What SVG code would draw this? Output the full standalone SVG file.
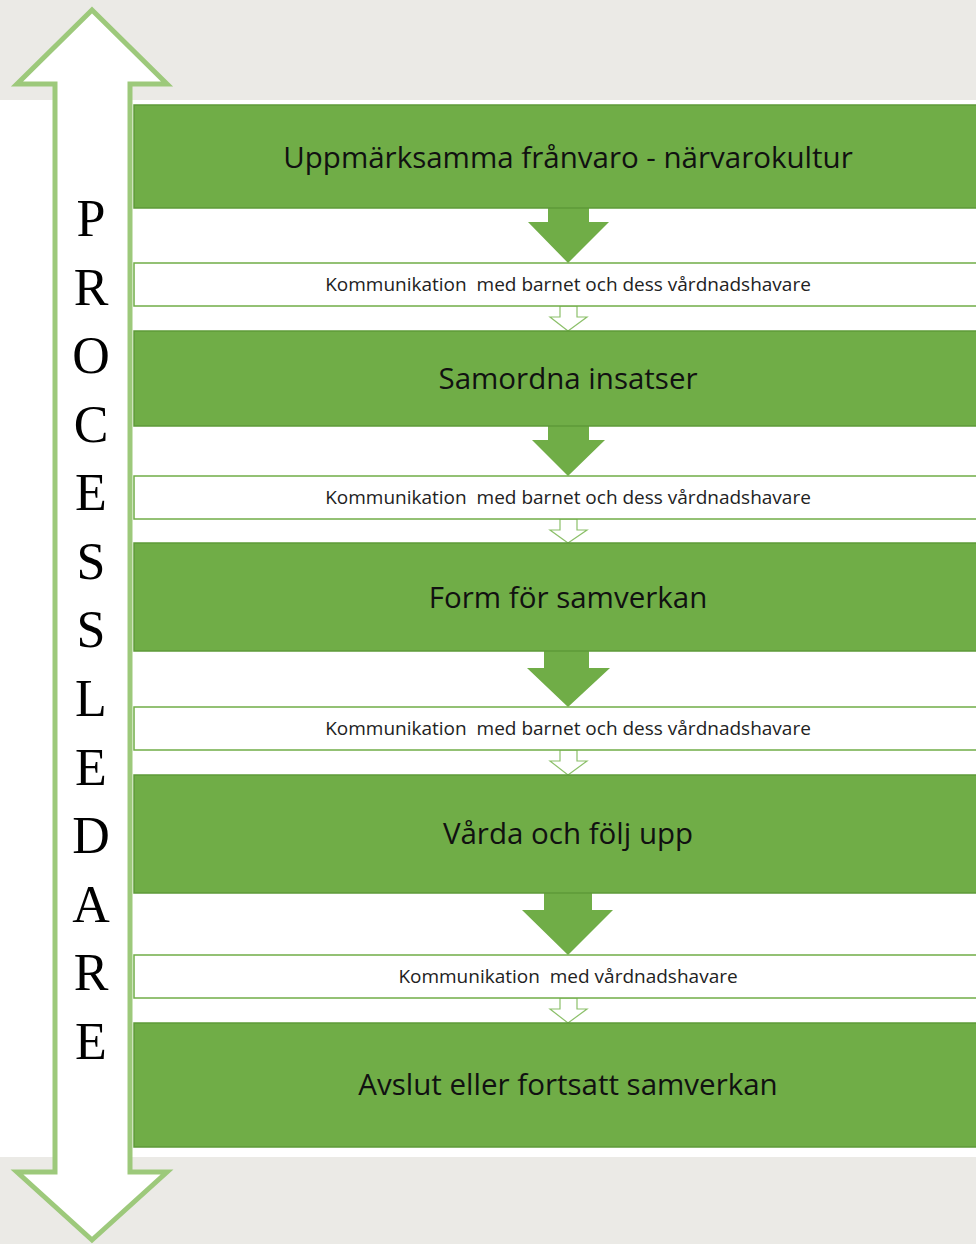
<svg xmlns="http://www.w3.org/2000/svg" width="976" height="1244" viewBox="0 0 976 1244">
<defs>
<style>
.box{fill:#70AD47;stroke:#5E9A38;stroke-width:1.5}
.comm{fill:#FFFFFF;stroke:#70AD47;stroke-width:1.5}
.title{font-family:"Open Sans","Liberation Sans",sans-serif;font-size:29.5px;fill:#111;text-anchor:middle;dominant-baseline:central}
.ctext{font-family:"Open Sans","Liberation Sans",sans-serif;font-size:19px;fill:#222;text-anchor:middle;dominant-baseline:central;white-space:pre}
.big{fill:#70AD47}
.small{fill:#FFFFFF;stroke:#8CC06A;stroke-width:1.2}
.letter{font-family:"Liberation Serif","Times New Roman",serif;font-size:52px;fill:#000;text-anchor:middle}
</style>
</defs>
<rect x="0" y="0" width="976" height="1244" fill="#EBEAE6"/>
<rect x="0" y="100" width="976" height="1057" fill="#FFFFFF"/>

<g id="processledare">
<path d="M92,10 L167,84 L130,84 L130,1172 L167,1172 L92,1240 L17,1172 L55,1172 L55,84 L17,84 Z" fill="#FFFFFF" stroke="#9DC97B" stroke-width="5" stroke-linejoin="miter"/>
<text class="letter" x="91" y="236">P</text>
<text class="letter" x="91" y="305">R</text>
<text class="letter" x="91" y="373">O</text>
<text class="letter" x="91" y="442">C</text>
<text class="letter" x="91" y="510">E</text>
<text class="letter" x="91" y="579">S</text>
<text class="letter" x="91" y="647">S</text>
<text class="letter" x="91" y="716">L</text>
<text class="letter" x="91" y="785">E</text>
<text class="letter" x="91" y="853">D</text>
<text class="letter" x="91" y="922">A</text>
<text class="letter" x="91" y="990">R</text>
<text class="letter" x="91" y="1059">E</text>
</g>

<g id="connectors">
<path class="big" d="M548,207 L589,207 L589,222 L609,222 L568,263 L528,222 L548,222 Z"/>
<path class="big" d="M548,425 L589,425 L589,440 L605,440 L568,476 L532,440 L548,440 Z"/>
<path class="big" d="M544,650 L589,650 L589,668 L610,668 L568,707 L527,668 L544,668 Z"/>
<path class="big" d="M544,892 L592,892 L592,910 L613,910 L568,955 L522,910 L544,910 Z"/>
<path class="small" d="M560,306 L577,306 L577,317 L587,317 L568,331 L550,317 L560,317 Z"/>
<path class="small" d="M560,519 L577,519 L577,530 L587,530 L568,543 L550,530 L560,530 Z"/>
<path class="small" d="M560,750 L577,750 L577,761 L587,761 L568,775 L550,761 L560,761 Z"/>
<path class="small" d="M560,998 L577,998 L577,1009 L587,1009 L568,1023 L550,1009 L560,1009 Z"/>
</g>

<g id="step1"><rect class="box" x="134" y="105" width="850" height="103"/><text class="title" x="568" y="156">Uppmärksamma frånvaro - närvarokultur</text></g>
<g id="comm1"><rect class="comm" x="134" y="263" width="850" height="43"/><text class="ctext" x="568" y="284" xml:space="preserve">Kommunikation  med barnet och dess vårdnadshavare</text></g>
<g id="step2"><rect class="box" x="134" y="331" width="850" height="95"/><text class="title" x="568" y="377">Samordna insatser</text></g>
<g id="comm2"><rect class="comm" x="134" y="476" width="850" height="43"/><text class="ctext" x="568" y="497" xml:space="preserve">Kommunikation  med barnet och dess vårdnadshavare</text></g>
<g id="step3"><rect class="box" x="134" y="543" width="850" height="108"/><text class="title" x="568" y="596">Form för samverkan</text></g>
<g id="comm3"><rect class="comm" x="134" y="707" width="850" height="43"/><text class="ctext" x="568" y="728" xml:space="preserve">Kommunikation  med barnet och dess vårdnadshavare</text></g>
<g id="step4"><rect class="box" x="134" y="775" width="850" height="118"/><text class="title" x="568" y="832">Vårda och följ upp</text></g>
<g id="comm4"><rect class="comm" x="134" y="955" width="850" height="43"/><text class="ctext" x="568" y="976" xml:space="preserve">Kommunikation  med vårdnadshavare</text></g>
<g id="step5"><rect class="box" x="134" y="1023" width="850" height="124"/><text class="title" x="568" y="1083">Avslut eller fortsatt samverkan</text></g>
</svg>
